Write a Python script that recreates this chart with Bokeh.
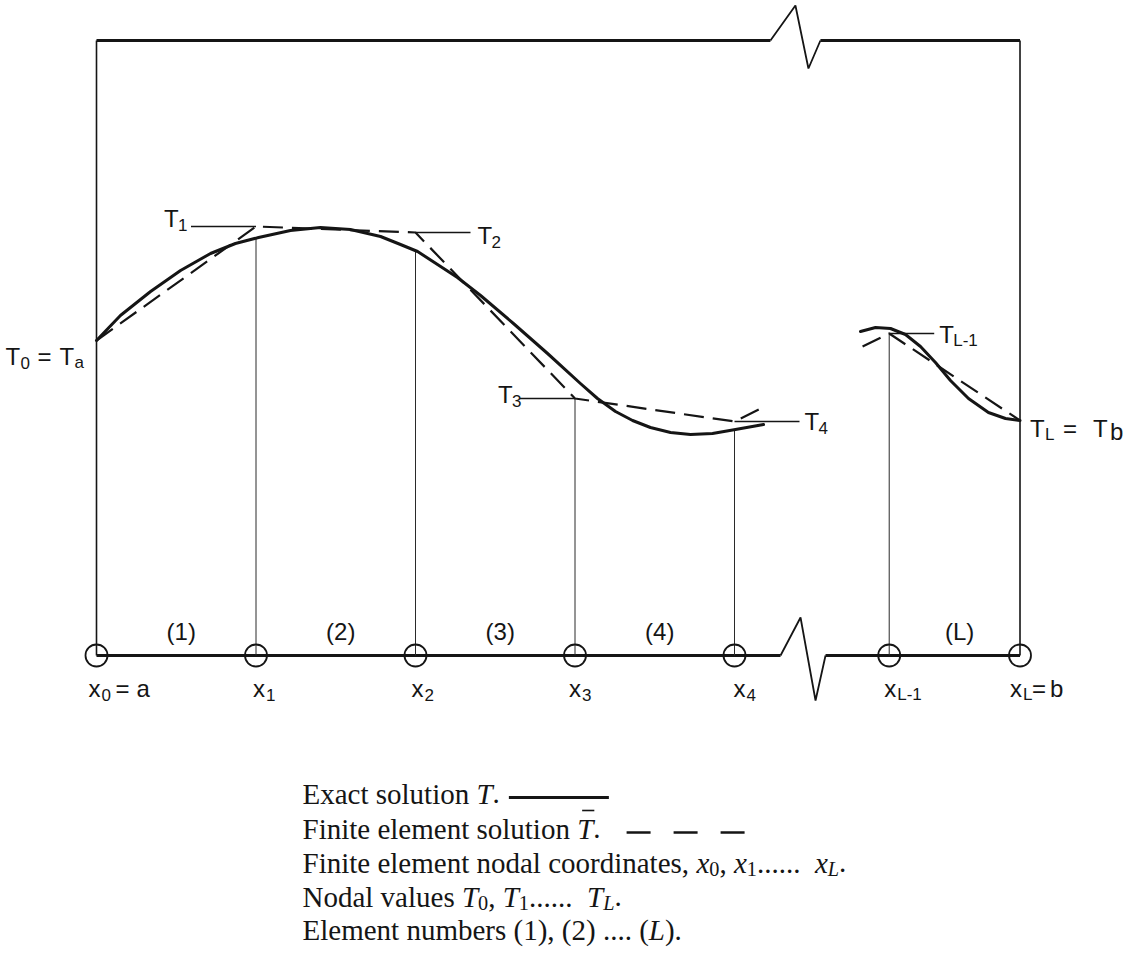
import numpy as np
from bokeh.plotting import figure
from bokeh.models import Range1d, ColumnDataSource
from bokeh.core.properties import value
from bokeh.embed import file_html
from bokeh.resources import INLINE

# ---------------------------------------------------------------------------
# Data: one-dimensional finite element discretisation of a temperature field
# ---------------------------------------------------------------------------
# nodal coordinates x0 .. x4, x_{L-1}, x_L
node_x = [0.0, 1.0, 2.0, 3.0, 4.0, 4.97, 5.79]
node_sub = ["0", "1", "2", "3", "4", "L-1", "L"]
# nodal values T0 .. T4, T_{L-1}, T_L of the finite element solution
node_T = [3.15, 4.29, 4.23, 2.57, 2.34, 3.22, 2.35]

# exact solution T(x), first stretch (x0 .. beyond x4)
exact1_x = [0.000, 0.150, 0.339, 0.527, 0.715, 0.871, 1.016, 1.216, 1.404, 1.592,
            1.781, 1.906, 2.013, 2.263, 2.408, 2.614, 2.828, 3.034, 3.141, 3.254,
            3.361, 3.473, 3.599, 3.724, 3.862, 4.006, 4.182]
exact1_T = [3.15, 3.40, 3.64, 3.85, 4.02, 4.12, 4.18, 4.25, 4.28, 4.26,
            4.19, 4.11, 4.04, 3.78, 3.60, 3.32, 3.02, 2.72, 2.57, 2.44,
            2.35, 2.28, 2.23, 2.21, 2.22, 2.26, 2.31]
# exact solution, last stretch (before x_{L-1} .. x_L)
exact2_x = [4.790, 4.884, 4.978, 5.072, 5.166, 5.260, 5.354, 5.467, 5.592, 5.699, 5.790]
exact2_T = [3.24, 3.28, 3.27, 3.21, 3.09, 2.93, 2.75, 2.57, 2.43, 2.37, 2.35]

# finite element solution leaving x4 and entering x_{L-1}
fe_tail = (4.166, 2.47)
fe_lead = (4.803, 3.09)

element_names = ["(1)", "(2)", "(3)", "(4)", "(L)"]
element_nodes = [(0, 1), (1, 2), (2, 3), (3, 4), (5, 6)]

T_TOP = 6.15          # upper edge of the frame
BREAK_TOP = 4.382     # break mark in the upper edge
BREAK_AXIS = 4.414    # break mark in the x axis

legend_lines = [
    [("Exact solution ", "normal", 0), ("T", "italic", 0), (".", "normal", 0)],
    [("Finite element solution ", "normal", 0), ("T", "italic", 0), (".", "normal", 0)],
    [("Finite element nodal coordinates, ", "normal", 0), ("x", "italic", 0), ("0", "normal", 1),
     (", ", "normal", 0), ("x", "italic", 0), ("1", "normal", 1), (" ...... ", "normal", 0),
     ("x", "italic", 0), ("L", "italic", 1), (".", "normal", 0)],
    [("Nodal values ", "normal", 0), ("T", "italic", 0), ("0", "normal", 1), (", ", "normal", 0),
     ("T", "italic", 0), ("1", "normal", 1), (" ...... ", "normal", 0), ("T", "italic", 0),
     ("L", "italic", 1), (".", "normal", 0)],
    [("Element numbers (1), (2) .... (", "normal", 0), ("L", "italic", 0), (").", "normal", 0)],
]

# ---------------------------------------------------------------------------
# Canvas
# ---------------------------------------------------------------------------
W, H = 1148, 955
SX, SY = 159.5, 100.0          # pixels per unit of x and of T
OX, OY = 96.0, 655.0           # pixel position of (x0, T=0)


def px(d):
    return d / SX


def py(d):
    return d / SY


INK = "#151515"
SANS = "Liberation Sans"
SERIF = "Liberation Serif"

p = figure(width=W, height=H, output_backend="svg", toolbar_location=None,
           x_range=Range1d(-OX / SX, (W - OX) / SX),
           y_range=Range1d(-(H - OY) / SY, OY / SY),
           min_border=0, x_axis_location=None, y_axis_location=None)
p.grid.visible = False
p.outline_line_color = None
p.background_fill_color = "white"
p.border_fill_color = "white"

xL = node_x[-1]

# frame: left and right sides, upper edge with a break mark
p.segment([node_x[0], xL], [0, 0], [node_x[0], xL], [T_TOP, T_TOP], line_width=1.6, color=INK)
tb = [BREAK_TOP - px(25), BREAK_TOP, BREAK_TOP + px(13), BREAK_TOP + px(25)]
p.line([node_x[0], tb[0]], [T_TOP, T_TOP], line_width=3, color=INK)
p.line([tb[3], xL], [T_TOP, T_TOP], line_width=3, color=INK)
p.line(tb, [T_TOP, T_TOP + py(35), T_TOP - py(28), T_TOP], line_width=1.8, color=INK)

# x axis with a break mark
ab = [BREAK_AXIS - px(20), BREAK_AXIS, BREAK_AXIS + px(15), BREAK_AXIS + px(25)]
p.line([node_x[0], ab[0]], [0, 0], line_width=3, color=INK)
p.line([ab[3], xL], [0, 0], line_width=3, color=INK)
p.line(ab, [0, py(38), -py(45), 0], line_width=1.8, color=INK)

# vertical lines from each interior node up to the lower of the two curves
ex_x = np.array(exact1_x + exact2_x)
ex_T = np.array(exact1_T + exact2_T)
stem_x, stem_top = [], []
for i in range(1, 6):
    stem_x.append(node_x[i])
    stem_top.append(min(node_T[i], float(np.interp(node_x[i], ex_x, ex_T))))
p.segment(stem_x, [0] * len(stem_x), stem_x, stem_top, line_width=1.0, color="#2a2a2a")

# nodes
p.scatter(node_x, [0] * len(node_x), marker="circle", size=22, fill_color=None,
          line_color=INK, line_width=1.8)

# exact solution
p.line(exact1_x, exact1_T, line_width=3, color=INK, line_cap="round", line_join="round")
p.line(exact2_x, exact2_T, line_width=3, color=INK, line_cap="round", line_join="round")

# finite element (piecewise linear) solution
fe1_x = node_x[:5] + [fe_tail[0]]
fe1_T = node_T[:5] + [fe_tail[1]]
fe2_x = [fe_lead[0]] + node_x[5:]
fe2_T = [fe_lead[1]] + node_T[5:]
p.line(fe1_x, fe1_T, line_width=2.2, color=INK, line_dash="20 9")
p.line(fe2_x, fe2_T, line_width=2.2, color=INK, line_dash="20 9")

# leader lines for the nodal value labels
lead_x0 = [node_x[1] - px(65), node_x[2], node_x[3] - px(55), node_x[4], node_x[5]]
lead_x1 = [node_x[1], node_x[2] + px(55), node_x[3], node_x[4] + px(65), node_x[5] + px(45)]
lead_T = [node_T[1], node_T[2], node_T[3], node_T[4], node_T[5]]
p.segment(lead_x0, lead_T, lead_x1, lead_T, line_width=1.5, color=INK)

# ---------------------------------------------------------------------------
# Text
# ---------------------------------------------------------------------------
texts = {}


def put(x, y, s, size, font=SANS, style="normal", align="left"):
    key = (font, style, align)
    d = texts.setdefault(key, {"x": [], "y": [], "t": [], "s": []})
    d["x"].append(x)
    d["y"].append(y)
    d["t"].append(s)
    d["s"].append(f"{size}px")


BIG, SUB = 24, 17

# nodal coordinate labels below the axis
x_dx = [-8, -3, -4, -6, -1, -5, -10]
for i, (xn, sub) in enumerate(zip(node_x, node_sub)):
    put(xn + px(x_dx[i]), -py(33), "x", BIG)
    put(xn + px(x_dx[i] + 13), -py(39), sub, SUB)
put(node_x[0] + px(19), -py(33), "=", BIG)
put(node_x[0] + px(40), -py(33), "a", BIG)
put(xL + px(12), -py(33), "=", BIG)
put(xL + px(30), -py(33), "b", BIG)

# element numbers
for name, (a, b) in zip(element_names, element_nodes):
    put((node_x[a] + node_x[b]) / 2 + px(5), py(24), name, BIG, align="center")

# nodal value labels: (node index, x offset of "T", baseline drop)
t_lab = [(1, -92, -8), (2, 62, 3), (3, -77, -4), (4, 70, 0), (5, 50, 1)]
for i, dxp, dyp in t_lab:
    put(node_x[i] + px(dxp), node_T[i] - py(dyp), "T", BIG)
    put(node_x[i] + px(dxp + 14), node_T[i] - py(dyp + 6), node_sub[i], SUB)

# T0 = Ta
put(node_x[0] + px(-91), node_T[0] - py(16), "T", BIG)
put(node_x[0] + px(-76), node_T[0] - py(22), "0", SUB)
put(node_x[0] + px(-59), node_T[0] - py(16), "=", BIG)
put(node_x[0] + px(-37), node_T[0] - py(16), "T", BIG)
put(node_x[0] + px(-22), node_T[0] - py(22), "a", SUB)

# TL = Tb
put(xL + px(10), node_T[6] - py(8), "T", BIG)
put(xL + px(25), node_T[6] - py(14), "L", SUB)
put(xL + px(43), node_T[6] - py(8), "=", BIG)
put(xL + px(73), node_T[6] - py(8), "T", BIG)
put(xL + px(90), node_T[6] - py(11), "b", 24)

# legend (Times metrics, per 1000 em)
ROMAN = {" ": 250, "(": 333, ")": 333, ",": 250, "-": 333, ".": 250, "=": 564}
ROMAN.update({c: 500 for c in "0123456789"})
ROMAN.update(dict(E=611, F=556, N=722, T=611, L=611))
ROMAN.update(dict(a=444, b=500, c=444, d=500, e=444, f=333, g=500, h=500, i=278, j=278,
                  k=500, l=278, m=778, n=500, o=500, p=500, q=500, r=333, s=389, t=278,
                  u=500, v=500, w=722, x=500, y=500, z=444))
ITALIC = dict(ROMAN)
ITALIC.update(dict(T=556, L=556, x=444))

LEG_X = 302.0
LEG_BASE = [793, 828, 862, 896, 929]
LF = 29
line_ends = []
for row, base in zip(legend_lines, LEG_BASE):
    cur = LEG_X
    yb = (OY - base) / SY
    for s, style, sub in row:
        size = LF * 0.7 if sub else LF
        yy = yb - (py(LF * 0.22) if sub else 0)
        put((cur - OX) / SX, yy, s, round(size, 1), font=SERIF, style=style)
        table = ITALIC if style == "italic" else ROMAN
        w = sum(table.get(c, 500) for c in s) / 1000.0 * size
        if s == "T" and row is legend_lines[1]:
            # bar over the finite element solution symbol
            bx0 = (cur + 0.17 * size - OX) / SX
            ybar = yb + py(18)
            p.segment([bx0], [ybar], [bx0 + px(0.42 * size)], [ybar],
                      line_width=1.6, color=INK)
        cur += w
    line_ends.append(cur)

# legend line samples
y1 = (OY - LEG_BASE[0]) / SY - py(4)
s0 = line_ends[0] + 9
p.segment([(s0 - OX) / SX], [y1], [(s0 + 100 - OX) / SX], [y1], line_width=3, color=INK)
y2 = (OY - LEG_BASE[1]) / SY - py(4)
s1 = line_ends[1] + 26
p.line([(s1 - OX) / SX, (s1 + 118 - OX) / SX], [y2, y2], line_width=2.6, color=INK,
       line_dash="24 23")

for (font, style, align), d in texts.items():
    src = ColumnDataSource(dict(x=d["x"], y=d["y"], t=d["t"], s=d["s"]))
    p.text("x", "y", text="t", source=src, text_font=value(font), text_font_style=style,
           text_font_size="s", text_align=align, text_baseline="alphabetic", text_color=INK)

open("out.html", "w").write(file_html(p, INLINE))
